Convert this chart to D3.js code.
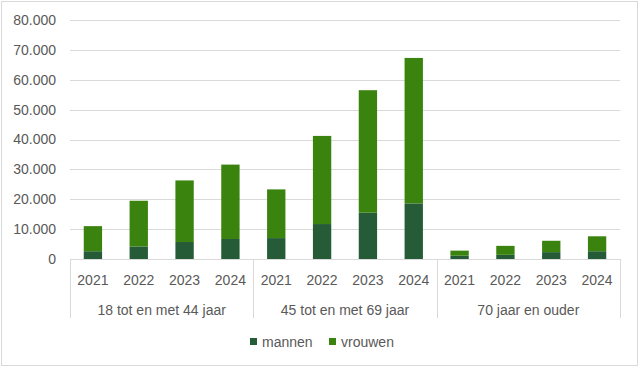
<!DOCTYPE html>
<html><head><meta charset="utf-8">
<script src="https://cdn.jsdelivr.net/npm/d3@7"></script>
<style>body{margin:0;background:#fff}svg{display:block}text{font-family:"Liberation Sans",Arial,sans-serif;fill:#595959}</style>
</head><body><svg id="c" width="640" height="368"></svg>
<script>
const groups = ["18 tot en met 44 jaar", "45 tot en met 69 jaar", "70 jaar en ouder"];
const years = ["2021", "2022", "2023", "2024"];
const mannen = [2600, 4200, 5700, 6700, 7000, 11700, 15500, 18600, 1100, 1400, 2300, 2600];
const vrouwen = [8400, 15300, 20600, 24900, 16300, 29500, 41000, 48700, 1700, 3000, 3800, 5000];
const yTicks = [0, 10000, 20000, 30000, 40000, 50000, 60000, 70000, 80000];
const seriesNames = ["mannen", "vrouwen"];
const colors = ["#255B37", "#3A830F"];

(function () {
const svg = d3.select("#c");
svg.append("rect").attr("x", 1.5).attr("y", 1.5).attr("width", 636).attr("height", 364)
  .attr("fill", "#fff").attr("stroke", "#D9D9D9").attr("stroke-width", 1);

const pl = 70, pr = 620, pt = 20, pb = 259;
const cats = [];
groups.forEach((g, gi) => years.forEach((yr, yi) => cats.push({g, y: yr, i: gi * 4 + yi})));
const x = d3.scaleBand().domain(cats.map(c => c.i)).range([pl, pr]).paddingInner(0.6).paddingOuter(0.3);
const y = d3.scaleLinear().domain([0, 80000]).range([pb, pt]);
const fmt = v => d3.format(",")(v).replace(/,/g, ".");

svg.append("g").selectAll("line").data(yTicks.filter(t => t > 0)).join("line")
  .attr("x1", pl).attr("x2", pr).attr("y1", d => Math.round(y(d)) + 0.5).attr("y2", d => Math.round(y(d)) + 0.5)
  .attr("stroke", "#D9D9D9").attr("stroke-width", 1);

const yAxis = d3.axisLeft(y).tickValues(yTicks).tickFormat(fmt).tickSize(0).tickPadding(14);
const ya = svg.append("g").attr("transform", `translate(${pl},0)`).call(yAxis);
ya.select(".domain").remove();
ya.selectAll("text").style("font-size", "14px").attr("fill", "#595959").style("font-family", "'Liberation Sans', Arial, sans-serif");

const stackData = cats.map(c => ({i: c.i, mannen: mannen[c.i], vrouwen: vrouwen[c.i]}));
const stacked = d3.stack().keys(seriesNames)(stackData);
svg.append("g").selectAll("g").data(stacked).join("g").attr("fill", (d, k) => colors[k])
  .selectAll("rect").data(d => d).join("rect")
  .attr("x", d => x(d.data.i)).attr("width", x.bandwidth())
  .attr("y", d => y(d[1])).attr("height", d => y(d[0]) - y(d[1]));

svg.append("line").attr("x1", pl).attr("x2", pr).attr("y1", pb + 0.5).attr("y2", pb + 0.5)
  .attr("stroke", "#D9D9D9");
const step = (pr - pl) / groups.length;
for (let k = 0; k <= groups.length; k++) {
  const xx = Math.round(pl + k * step) + 0.5;
  svg.append("line").attr("x1", xx).attr("x2", xx).attr("y1", pb).attr("y2", 318).attr("stroke", "#D9D9D9");
}
svg.append("g").selectAll("text").data(cats).join("text")
  .attr("x", d => x(d.i) + x.bandwidth() / 2).attr("y", 285).attr("text-anchor", "middle")
  .style("font-size", "14px").text(d => d.y);
svg.append("g").selectAll("text").data(groups).join("text")
  .attr("x", (d, k) => pl + (k + 0.5) * step).attr("y", 315).attr("text-anchor", "middle")
  .style("font-size", "14px").text(d => d);

const lg = svg.append("g");
const lx = [250, 329];
seriesNames.forEach((s, k) => {
  lg.append("rect").attr("x", lx[k]).attr("y", 338).attr("width", 7).attr("height", 7).attr("fill", colors[k]);
  lg.append("text").attr("x", lx[k] + 12).attr("y", 347).style("font-size", "14px").text(s);
});
})();
</script></body></html>
